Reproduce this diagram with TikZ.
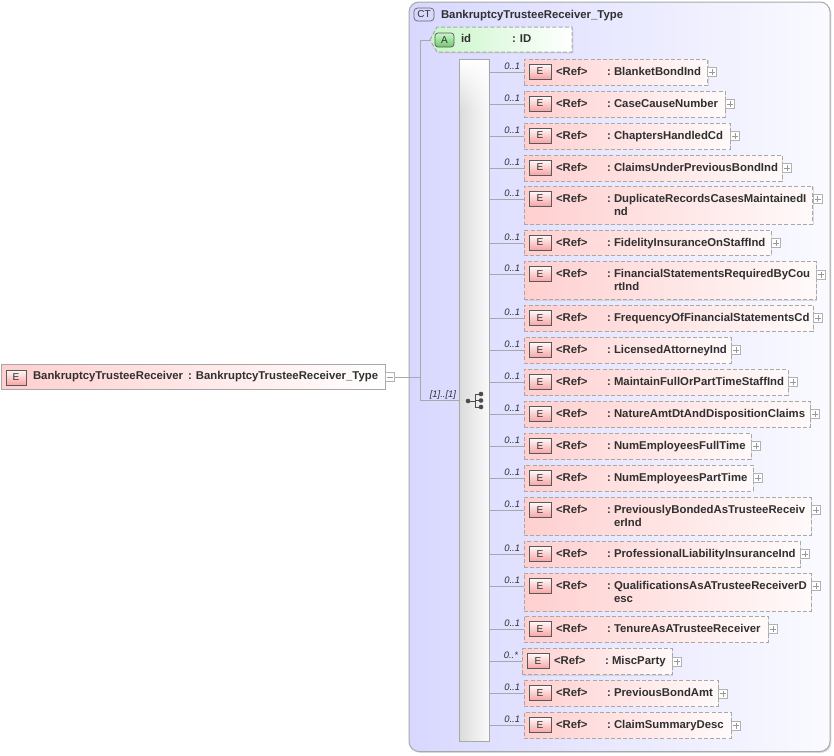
\documentclass[tikz,border=0pt]{standalone}
\usepackage{fontspec}
\setmainfont{Liberation Sans}
\usetikzlibrary{shapes.geometric,shadows,positioning,fadings}
\definecolor{tcol}{HTML}{303030}
\definecolor{pinkA}{HTML}{FFCFCF}
\definecolor{pinkB}{HTML}{FFFAFA}
\definecolor{iconE}{HTML}{F8A4A4}
\definecolor{lav}{HTML}{D8D8FF}
\definecolor{lavb}{HTML}{FAFAFF}
\definecolor{edge}{HTML}{A8A8A8}
\definecolor{grn}{HTML}{C8F5C8}
\newcommand{\ptxt}{\fontsize{11.35}{13}\selectfont\bfseries\color{tcol}}
\tikzset{
  x=1pt,y=-1pt,
  every node/.style={inner sep=0pt,outer sep=0pt},
  link/.style={draw=edge,line width=0.9pt},
  txt/.style={font=\ptxt,anchor=base west},
  mult/.style={font=\fontsize{9.4}{10}\selectfont\itshape\color{tcol},anchor=base east},
  softshadow/.style={drop shadow={shadow xshift=1.4pt,shadow yshift=-1.4pt,fill=black!25,opacity=.5}},
  eicon/.style={draw=black!65,line width=0.7pt,bottom color=iconE,top color=pinkB,minimum width=22,minimum height=15,anchor=north west,font=\fontsize{10}{10}\selectfont\color{tcol}},
  elemref/.style={draw=edge,dashed,dash pattern=on 4pt off 2.2pt,line width=1pt,left color=pinkA,right color=pinkB,anchor=north west,softshadow},
  plusbox/.style={draw=black!30,fill=white,line width=0.7pt,minimum width=9,minimum height=9,anchor=west,
    path picture={\draw[black!40,line width=0.6pt] (path picture bounding box.west) ++(1.5,0) -- ++(6,0);
      \draw[black!40,line width=0.6pt] (path picture bounding box.north) ++(0,1.5) -- ++(0,6);}},
  minusbox/.style={draw=black!30,fill=white,line width=0.7pt,minimum width=9,minimum height=9,anchor=west,
    path picture={\draw[black!40,line width=0.6pt] (path picture bounding box.west) ++(1.5,0) -- ++(6,0);}},
}
% \erow{id}{left}{top}{bottom}{right}{mult}{name}
\newcommand{\erow}[7]{%
  \node[elemref,minimum width=#5-#2,minimum height=#4-#3] (b#1) at (#2,#3) {};
  \node[eicon] (e#1) at (#2+5,#3+5) {E};
  \node[txt] (a#1) at (#2+32,#3+16) {<Ref>};
  \node[txt] (c#1) at (#2+83,#3+16) {:};
  \node[txt] (n#1) at (#2+90,#3+16) {#7};
  \node[plusbox] (p#1) at (#5+0.3,#3+13) {};
  \coordinate (l#1) at (#2,#3+13);
  \draw[link] (seq.east |- l#1) -- (l#1);
  \node[mult] (m#1) at (#2-4,#3+10) {#6};
}
\begin{document}
\begin{tikzpicture}
\useasboundingbox (0,0) rectangle (834,755);
% complex type
\node[draw=edge,line width=1pt,rounded corners=10,left color=lav,right color=lavb,anchor=north west,minimum width=421,minimum height=749.5,softshadow] (ct) at (409,2) {};
\node[draw=black!60,line width=0.7pt,rounded corners=3.5,fill=lav,minimum width=20,minimum height=13,anchor=north west,font=\fontsize{10}{10}\selectfont\color{tcol}] (cti) at (414,8) {CT};
\node[txt] (ctn) at (441,18) {BankruptcyTrusteeReceiver\_Type};
% sequence
\node[draw=edge,line width=1pt,left color=black!14,right color=black!2,anchor=north west,minimum width=30,minimum height=682] (seq) at (459,59) {};
\fill[white,path fading=south] (460,60) rectangle (488,110);
% attribute
\path[draw=edge,dashed,dash pattern=on 4pt off 2.2pt,line width=1pt,left color=grn,right color=white,softshadow] (430,40) -- (437,27) -- (572,27) -- (572,52) -- (437,52) -- cycle;
\coordinate (attr) at (430,40);
\node[draw=black!65,line width=0.7pt,rounded corners=3,top color=grn,bottom color=green!60!black!55,minimum width=19,minimum height=14,anchor=north west,font=\fontsize{10}{10}\selectfont\color{tcol}] (ai) at (435,33) {A};
\node[txt] (an) at (461,42) {id};
\node[txt] (at) at (512,42) {: ID};
% root element
\node[draw=edge,line width=1pt,left color=pinkA,right color=white,anchor=north west,minimum width=384,minimum height=25,softshadow] (root) at (1,364) {};
\node[eicon,minimum width=20,minimum height=15] (rooti) at (6,370) {E};
\node[txt] (rootn) at (33,379) {BankruptcyTrusteeReceiver};
\node[txt] (roott) at (188,379) {: BankruptcyTrusteeReceiver\_Type};
\node[minusbox] (rootm) at (385.5,377) {};
% links
\coordinate (j) at (420,377);
\coordinate (jt) at (420,40);
\coordinate (jb) at (420,400.5);
\coordinate (sq) at (459,400.5);
\draw[link] (rootm) -- (j);
\draw[link] (attr) -- (jt) -- (jb) -- (sq);
\node[mult] (mseq) at (456,397) {[1]..[1]};
% sequence icon
\coordinate (si) at (468,401);
\coordinate (s1) at (481,394);
\coordinate (s2) at (481,400.5);
\coordinate (s3) at (481,407);
\draw[black!70,line width=0.8pt] (si) -- (475,401) (475,394) -- (475,407) (475,394) -- (s1) (475,400.5) -- (s2) (475,407) -- (s3);
\foreach \c in {si,s1,s2,s3} \fill[black!70] (\c) circle (2.3);
% rows
\erow{1}{524}{59}{85}{707.5}{0..1}{BlanketBondInd}
\erow{2}{524}{91}{117}{725}{0..1}{CaseCauseNumber}
\erow{3}{524}{123}{149}{730}{0..1}{ChaptersHandledCd}
\erow{4}{524}{155}{181}{782}{0..1}{ClaimsUnderPreviousBondInd}
\erow{5}{524}{186}{224}{812.7}{0..1}{DuplicateRecordsCasesMaintainedI}
\node[txt] (n5b) at (614,215) {nd};
\erow{6}{524}{230}{255}{771}{0..1}{FidelityInsuranceOnStaffInd}
\erow{7}{524}{261.5}{299.5}{816}{0..1}{FinancialStatementsRequiredByCou}
\node[txt] (n7b) at (614,290.5) {rtInd};
\erow{8}{524}{305.3}{331}{813}{0..1}{FrequencyOfFinancialStatementsCd}
\erow{9}{524}{337.3}{363}{731}{0..1}{LicensedAttorneyInd}
\erow{10}{524}{369.3}{395}{788}{0..1}{MaintainFullOrPartTimeStaffInd}
\erow{11}{524}{401.3}{427}{810}{0..1}{NatureAmtDtAndDispositionClaims}
\erow{12}{524}{433.3}{459}{751}{0..1}{NumEmployeesFullTime}
\erow{13}{524}{465.3}{491}{753}{0..1}{NumEmployeesPartTime}
\erow{14}{524}{497.3}{535}{811}{0..1}{PreviouslyBondedAsTrusteeReceiv}
\node[txt] (n14b) at (614,526.3) {erInd};
\erow{15}{524}{541.3}{567}{800}{0..1}{ProfessionalLiabilityInsuranceInd}
\erow{16}{524}{573.3}{611}{811}{0..1}{QualificationsAsATrusteeReceiverD}
\node[txt] (n16b) at (614,602.3) {esc};
\erow{17}{524}{616.3}{642}{768}{0..1}{TenureAsATrusteeReceiver}
\erow{18}{522}{648.5}{674.5}{672}{0..*}{MiscParty}
\erow{19}{524}{680.5}{706}{718}{0..1}{PreviousBondAmt}
\erow{20}{524}{712.5}{738}{731}{0..1}{ClaimSummaryDesc}
\end{tikzpicture}
\end{document}
